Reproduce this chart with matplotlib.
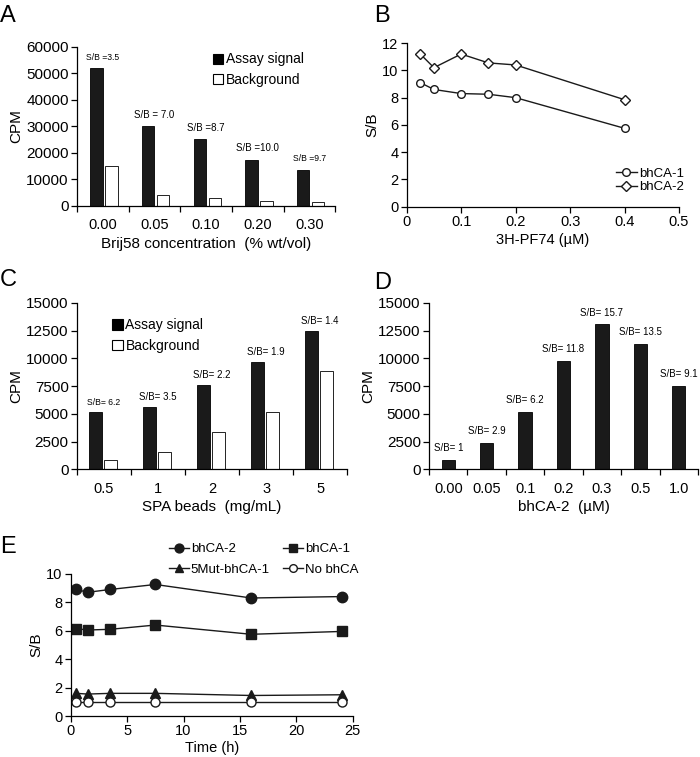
import matplotlib
matplotlib.use("Agg")
import matplotlib.pyplot as plt
import numpy as np
from matplotlib.patches import Patch

plt.rcParams['font.family'] = ['Liberation Sans', 'DejaVu Sans']
plt.rcParams['font.size'] = 10
plt.rcParams['axes.linewidth'] = 0.9

# panel A
brij_labels = ['0.00', '0.05', '0.10', '0.20', '0.30']
brij_signal = [52000, 30000, 25200, 17500, 13700]
brij_bg = [15000, 4300, 2900, 1800, 1500]
brij_sb = ['S/B =3.5', 'S/B = 7.0', 'S/B =8.7', 'S/B =10.0', 'S/B =9.7']

# panel B
pf74_conc = [0.025, 0.05, 0.1, 0.15, 0.2, 0.4]
pf74_bhca1 = [9.1, 8.6, 8.3, 8.25, 8.0, 5.75]
pf74_bhca2 = [11.2, 10.2, 11.2, 10.55, 10.4, 7.85]

# panel C
spa_labels = ['0.5', '1', '2', '3', '5']
spa_signal = [5200, 5600, 7600, 9700, 12500]
spa_bg = [850, 1600, 3400, 5200, 8850]
spa_sb = ['S/B= 6.2', 'S/B= 3.5', 'S/B= 2.2', 'S/B= 1.9', 'S/B= 1.4']

# panel D
bhca2_labels = ['0.00', '0.05', '0.1', '0.2', '0.3', '0.5', '1.0']
bhca2_signal = [850, 2400, 5200, 9800, 13050, 11300, 7550]
bhca2_sb = ['S/B= 1', 'S/B= 2.9', 'S/B= 6.2', 'S/B= 11.8', 'S/B= 15.7', 'S/B= 13.5', 'S/B= 9.1']

# panel E
time_h = [0.5, 1.5, 3.5, 7.5, 16, 24]
sb_bhca2 = [8.9, 8.7, 8.9, 9.25, 8.3, 8.4]
sb_bhca1 = [6.15, 6.05, 6.1, 6.4, 5.75, 5.95]
sb_5mut = [1.6, 1.55, 1.6, 1.6, 1.45, 1.5]
sb_none = [1.0, 1.0, 1.0, 1.0, 1.0, 1.0]

# some S/B labels are squeezed narrower in the original
sb_size_a = [6.2, 7, 7, 7, 6.2]
sb_size_c = [6.2, 7, 7, 7, 7]

fig = plt.figure(figsize=(7, 7.57), dpi=100)


def style_axes(ax, ysize=10.5):
    ax.spines['top'].set_visible(False)
    ax.spines['right'].set_visible(False)
    ax.tick_params(direction='out', length=4, width=0.9, labelsize=10.5, pad=2)
    ax.tick_params(axis='y', labelsize=ysize)


def category_axis(ax, labels):
    n = len(labels)
    ax.set_xlim(-0.5, n - 0.5)
    ax.set_xticks(np.arange(n + 1) - 0.5)
    ax.set_xticklabels([])
    ax.set_xticks(np.arange(n), minor=True)
    ax.set_xticklabels(labels, minor=True)
    ax.tick_params(axis='x', which='minor', length=0, labelsize=10.5, pad=9)


def square_legend(ax, loc, anchor):
    handles = [Patch(facecolor='black', edgecolor='black', linewidth=0.8),
               Patch(facecolor='white', edgecolor='black', linewidth=0.8)]
    ax.legend(handles, ['Assay signal', 'Background'], loc=loc, bbox_to_anchor=anchor,
              frameon=False, fontsize=10, handlelength=0.75, handleheight=0.75,
              handletextpad=0.2, labelspacing=0.45, borderaxespad=0)


# A
axA = fig.add_axes([0.110, 0.728, 0.369, 0.210])
style_axes(axA, 11)
x = np.arange(len(brij_labels))
axA.bar(x - 0.12, brij_signal, 0.24, color='#1a1a1a', edgecolor='black', linewidth=0.6)
axA.bar(x + 0.17, brij_bg, 0.24, color='white', edgecolor='black', linewidth=0.6)
for i in range(len(x)):
    axA.text(x[i], brij_signal[i] + 2400, brij_sb[i], ha='center', va='bottom',
             fontsize=sb_size_a[i])
category_axis(axA, brij_labels)
axA.set_ylim(0, 60000)
axA.set_yticks(np.arange(0, 60001, 10000))
axA.set_ylabel('CPM', fontsize=11, labelpad=2)
axA.set_xlabel('Brij58 concentration  (% wt/vol)', fontsize=11, labelpad=3)
square_legend(axA, 'upper right', (0.90, 1.0))

# B
axB = fig.add_axes([0.581, 0.727, 0.389, 0.216])
style_axes(axB)
axB.plot(pf74_conc, pf74_bhca1, '-o', color='#1a1a1a', mfc='white', mec='#1a1a1a', ms=5.5, lw=1, mew=1, label='bhCA-1')
axB.plot(pf74_conc, pf74_bhca2, '-D', color='#1a1a1a', mfc='white', mec='#1a1a1a', ms=5, lw=1, mew=1, label='bhCA-2')
axB.set_xlim(0, 0.5)
axB.set_ylim(0, 12)
axB.set_yticks(np.arange(0, 13, 2))
axB.set_xticks(np.arange(0, 0.51, 0.1))
axB.set_xticklabels(['0', '0.1', '0.2', '0.3', '0.4', '0.5'])
axB.set_ylabel('S/B', fontsize=11, labelpad=2)
axB.set_xlabel('3H-PF74 (\u00b5M)', fontsize=10.5, labelpad=3)
axB.legend(loc='lower right', bbox_to_anchor=(1.04, 0.05), frameon=False, fontsize=9.5,
           handlelength=1.6, handletextpad=0.2, labelspacing=0.1, borderaxespad=0)

# C
axC = fig.add_axes([0.110, 0.380, 0.386, 0.220])
style_axes(axC, 11)
x = np.arange(len(spa_labels))
axC.bar(x - 0.16, spa_signal, 0.23, color='#1a1a1a', edgecolor='black', linewidth=0.6)
axC.bar(x + 0.12, spa_bg, 0.23, color='white', edgecolor='black', linewidth=0.6)
for i in range(len(x)):
    axC.text(x[i], spa_signal[i] + 450, spa_sb[i], ha='center', va='bottom',
             fontsize=sb_size_c[i])
category_axis(axC, spa_labels)
axC.set_ylim(0, 15000)
axC.set_yticks(np.arange(0, 15001, 2500))
axC.set_ylabel('CPM', fontsize=11, labelpad=2)
axC.set_xlabel('SPA beads  (mg/mL)', fontsize=11, labelpad=3)
square_legend(axC, 'upper left', (0.11, 0.94))

# D
axD = fig.add_axes([0.613, 0.380, 0.384, 0.220])
style_axes(axD, 11)
x = np.arange(len(bhca2_labels))
axD.bar(x, bhca2_signal, 0.35, color='#1a1a1a', edgecolor='black', linewidth=0.6)
for i in range(len(x)):
    axD.text(x[i], bhca2_signal[i] + 600, bhca2_sb[i], ha='center', va='bottom', fontsize=7)
category_axis(axD, bhca2_labels)
axD.set_ylim(0, 15000)
axD.set_yticks(np.arange(0, 15001, 2500))
axD.set_ylabel('CPM', fontsize=11, labelpad=2)
axD.set_xlabel('bhCA-2  (\u00b5M)', fontsize=11, labelpad=3)

# E
axE = fig.add_axes([0.101, 0.054, 0.403, 0.188])
style_axes(axE)
kw = dict(color='#1a1a1a', lw=1, mec='#1a1a1a', mew=1)
l1, = axE.plot(time_h, sb_bhca2, '-o', mfc='#1a1a1a', ms=7.5, **kw)
l2, = axE.plot(time_h, sb_bhca1, '-s', mfc='#1a1a1a', ms=7, **kw)
l3, = axE.plot(time_h, sb_5mut, '-^', mfc='#1a1a1a', ms=6.5, **kw)
l4, = axE.plot(time_h, sb_none, '-o', mfc='white', ms=6.5, **kw)
axE.set_xlim(0, 25)
axE.set_ylim(0, 10)
axE.set_yticks(np.arange(0, 11, 2))
axE.set_xticks(np.arange(0, 26, 5))
axE.set_ylabel('S/B', fontsize=11, labelpad=2)
axE.set_xlabel('Time (h)', fontsize=10.5, labelpad=2)
axE.legend([l1, l3, l2, l4], ['bhCA-2', '5Mut-bhCA-1', 'bhCA-1', 'No bhCA'], ncol=2,
           loc='lower left', bbox_to_anchor=(0.33, 0.95), frameon=False, fontsize=9.5,
           handlelength=1.5, handletextpad=0.15, columnspacing=1.0, labelspacing=0.6,
           borderaxespad=0, markerscale=0.85)

for lab, (px, py) in zip('ABCDE', [(0.0, 0.979), (0.535, 0.979), (0.0, 0.630),
                                   (0.535, 0.626), (0.0, 0.277)]):
    fig.text(px, py, lab, fontsize=17, ha='left', va='center')

fig.savefig('out.png', dpi=100)
